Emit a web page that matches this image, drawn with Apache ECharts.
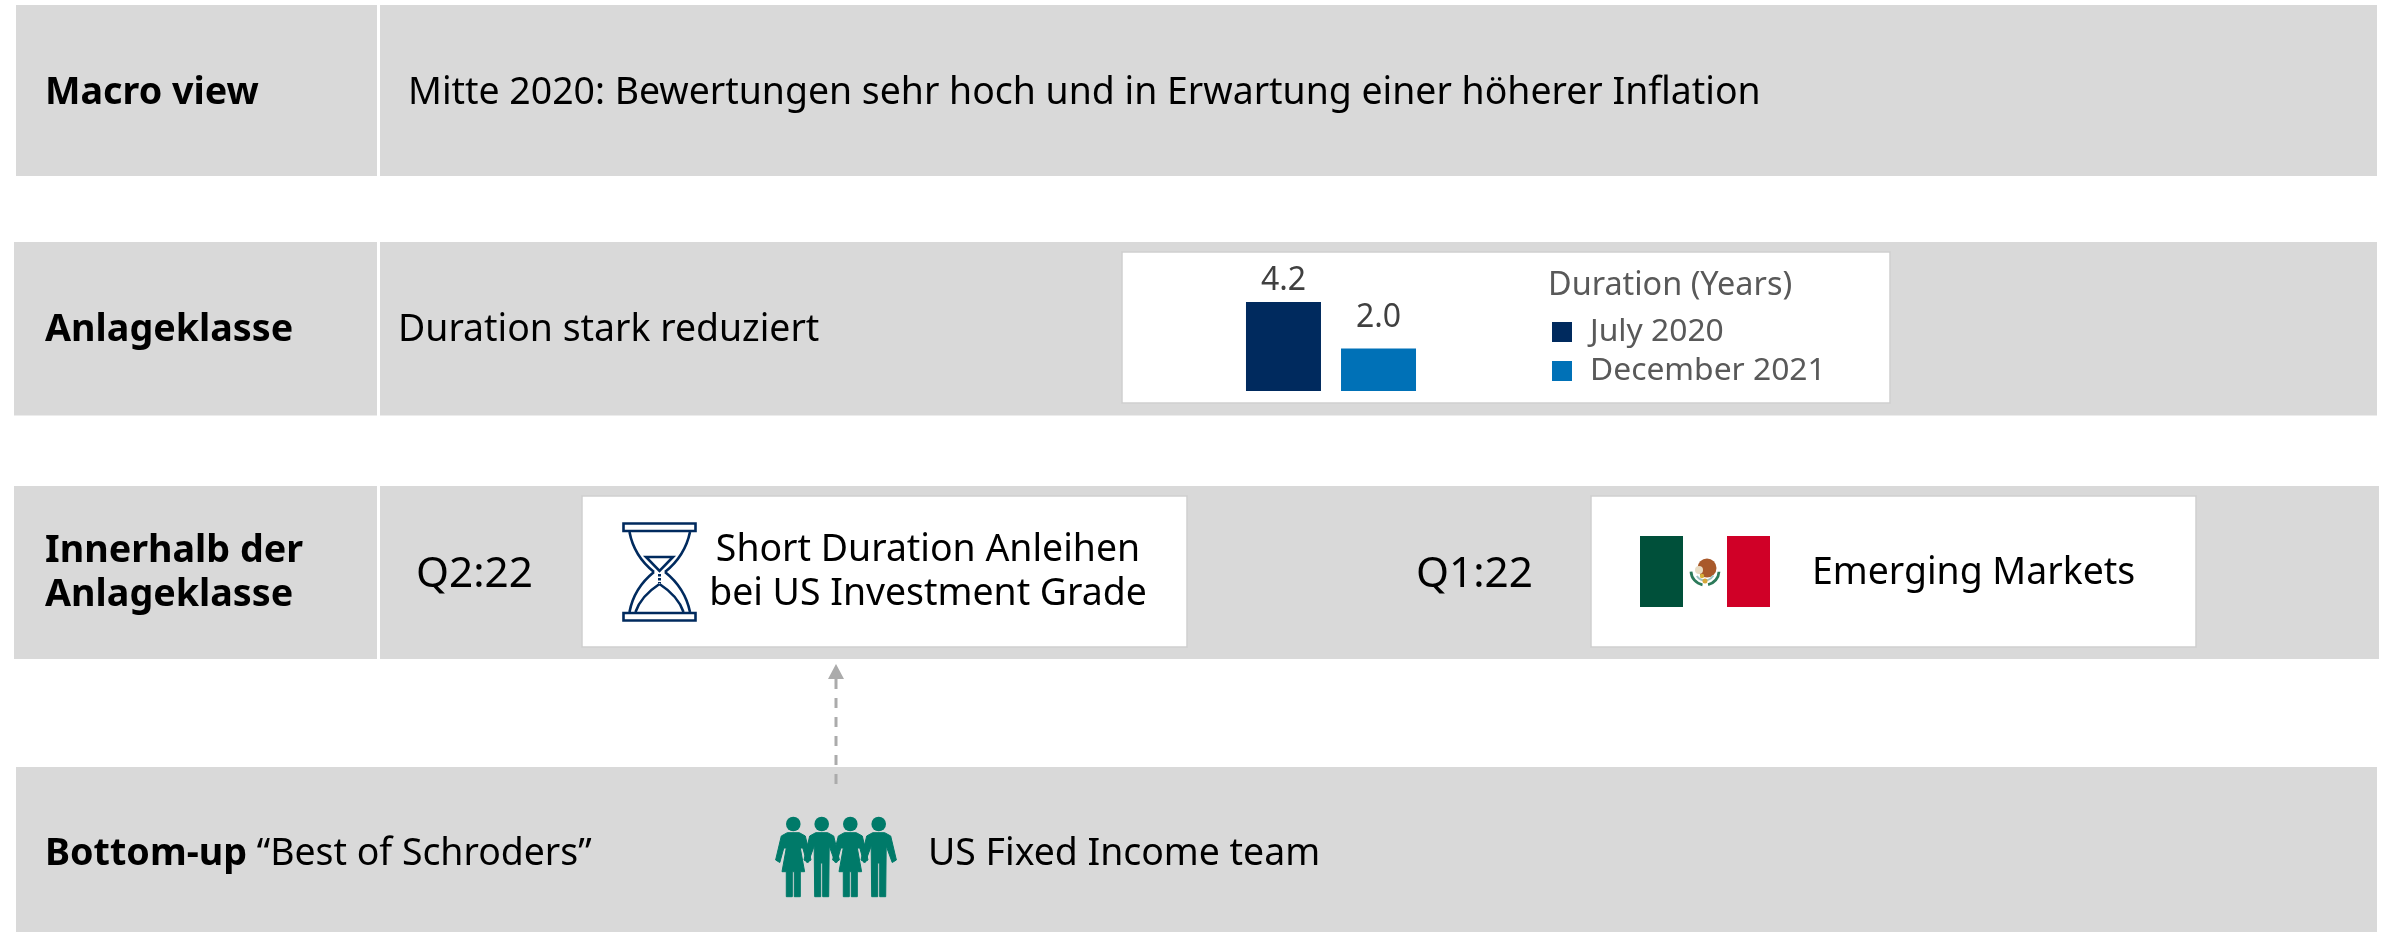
<!DOCTYPE html>
<html lang="en">

<head>
    <meta charset="UTF-8">
    <title>Best of Schroders</title>
    <style>
        html, body { margin: 0; padding: 0; background: #fff; }
        #main { width: 2387px; height: 932px; }
    </style>
</head>

<body>
    <div id="main"></div>
    <script src="https://cdn.jsdelivr.net/npm/echarts@6/dist/echarts.min.js"></script>
    <script>
        var durationTitle = 'Duration (Years)';
        var durationCategory = ['Duration'];
        var seriesNames = ['July 2020', 'December 2021'];
        var july2020 = [4.2];
        var december2021 = [2.0];

        var FONT = '"Noto Sans"';
        var PANEL = '#d9d9d9';
        var NAVY = '#002a5e';
        var BLUE = '#0071b7';
        var TEAL = '#007a69';
        var SIZE = 37.4;
        var BOLD = 37.7;

        function rect(x, y, w, h, fill, stroke) {
            return {
                type: 'rect',
                shape: { x: x, y: y, width: w, height: h },
                style: { fill: fill, stroke: stroke || null, lineWidth: stroke ? 1.5 : 0 }
            };
        }

        function text(str, x, y, size, weight, color, align) {
            return {
                type: 'text',
                x: x,
                y: y,
                style: {
                    text: str,
                    fill: color || '#000',
                    font: (weight || 'normal') + ' ' + size + 'px ' + FONT,
                    textAlign: align || 'left',
                    textVerticalAlign: 'middle'
                }
            };
        }

        function curve(x1, y1, cx, cy, x2, y2, color, width) {
            return {
                type: 'bezierCurve',
                shape: { x1: x1, y1: y1, x2: x2, y2: y2, cpx1: cx, cpy1: cy },
                style: { stroke: color, lineWidth: width, fill: null }
            };
        }

        // hourglass icon in the left box
        function hourglass() {
            var w = 2.6;
            var box = { fill: '#fff', stroke: NAVY, lineWidth: w };
            return [
                { type: 'rect', shape: { x: 623.5, y: 523.5, width: 72, height: 7.5 }, style: box },
                { type: 'rect', shape: { x: 623.5, y: 613, width: 72, height: 7.5 }, style: box },
                curve(629.5, 532, 634, 556, 654, 572, NAVY, w),
                curve(690, 532, 685, 556, 665, 572, NAVY, w),
                curve(654, 572, 634, 588, 629.5, 612, NAVY, w),
                curve(665, 572, 685, 588, 690, 612, NAVY, w),
                {
                    type: 'polygon',
                    shape: { points: [[646, 557], [673, 557], [659.5, 571]] },
                    style: { fill: null, stroke: NAVY, lineWidth: w }
                },
                curve(635.5, 612, 641, 596, 659.5, 584, NAVY, w),
                curve(683.5, 612, 678, 596, 659.5, 584, NAVY, w),
                {
                    type: 'line',
                    shape: { x1: 659.5, y1: 574, x2: 659.5, y2: 583 },
                    style: { stroke: NAVY, lineWidth: 3, lineDash: [2.5, 1.5] }
                }
            ];
        }

        function flag() {
            var wreath = function (start, end, color, r, lw) {
                return {
                    type: 'arc',
                    shape: { cx: 1705, cy: 571, r: r, startAngle: start, endAngle: end, clockwise: true },
                    style: { stroke: color, lineWidth: lw, fill: null }
                };
            };
            return [
                rect(1640, 536, 43, 71, '#00503a'),
                rect(1727, 536, 43, 71, '#d00027'),
                { type: 'circle', shape: { cx: 1707, cy: 568, r: 9.5 }, style: { fill: '#a9592b' } },
                { type: 'circle', shape: { cx: 1699, cy: 570, r: 4 }, style: { fill: '#e8dcc4' } },
                { type: 'circle', shape: { cx: 1702, cy: 576, r: 2.2 }, style: { fill: '#d7b13a' } },
                wreath(0.05, 1.35, '#2c7a5a', 14, 2.8),
                wreath(1.75, 3.1, '#2c7a5a', 14, 2.8),
                wreath(0.5, 2.6, '#9fc4c4', 9.5, 2),
                { type: 'circle', shape: { cx: 1705, cy: 581, r: 2.5 }, style: { fill: '#d7a83a' } }
            ];
        }

        // four figures, woman and man in turn
        function people() {
            var woman = [[-6, 832.7], [6, 832.7], [12, 836], [17.7, 860], [13.5, 862.5], [9.5, 848], [7, 848],
                [11.3, 871.7], [7, 871.7], [7, 896.7], [1, 896.7], [1, 871.7], [-1, 871.7], [-1, 896.7],
                [-7, 896.7], [-7, 871.7], [-11.3, 871.7], [-7, 848], [-9.5, 848], [-13.5, 862.5], [-17.7, 860], [-12, 836]];
            var man = [[-6, 832.7], [6, 832.7], [12, 836], [17.7, 860], [13.5, 862.5], [7.5, 846], [7, 896.7],
                [1, 896.7], [1, 863], [-1, 863], [-1, 896.7], [-7, 896.7], [-7.5, 846], [-13.5, 862.5], [-17.7, 860], [-12, 836]];
            var out = [];
            [793.3, 821.7, 850.3, 878.7].forEach(function (cx, i) {
                out.push({ type: 'circle', shape: { cx: cx, cy: 824, r: 7.3 }, style: { fill: TEAL } });
                out.push({
                    type: 'polygon',
                    shape: {
                        points: (i % 2 ? man : woman).map(function (p) { return [cx + p[0], p[1]]; })
                    },
                    style: { fill: TEAL, stroke: TEAL, lineWidth: 1, lineJoin: 'round' }
                });
            });
            return out;
        }

        var shapes = [
            // grey bands, left cell then right cell
            rect(16, 5, 361, 171, PANEL), rect(380, 5, 1997, 171, PANEL),
            rect(14, 242, 363, 173.5, PANEL), rect(380, 242, 1997, 173.5, PANEL),
            rect(14, 486, 363, 173, PANEL), rect(380, 486, 1999, 173, PANEL),
            rect(16, 767, 2361, 165, PANEL),
            // white boxes
            rect(1122, 252, 768, 151, '#fff', '#cfcfcf'),
            rect(582, 496, 605, 151, '#fff', '#cfcfcf'),
            rect(1591, 496, 605, 151, '#fff', '#cfcfcf'),

            text('Macro view', 45, 93, BOLD, 'bold'),
            text('Mitte 2020: Bewertungen sehr hoch und in Erwartung einer höherer Inflation', 408, 93, SIZE),
            text('Anlageklasse', 45, 330, BOLD, 'bold'),
            text('Duration stark reduziert', 398, 330, SIZE),
            text('Innerhalb der', 45, 551, BOLD, 'bold'),
            text('Anlageklasse', 45, 595, BOLD, 'bold'),
            text('Q2:22', 416, 575, 42.3),
            text('Q1:22', 1416, 575, 42.3),
            text('Short Duration Anleihen', 928, 550, SIZE, 'normal', '#000', 'center'),
            text('bei US Investment Grade', 928, 594, SIZE, 'normal', '#000', 'center'),
            text('Emerging Markets', 1812, 573, SIZE),
            text(durationTitle, 1548, 286, 32.4, 'normal', '#595959'),
            {
                type: 'text',
                x: 45,
                y: 854,
                style: {
                    text: '{b|Bottom-up}{n| “Best of Schroders”}',
                    fill: '#000',
                    textVerticalAlign: 'middle',
                    rich: {
                        b: { font: 'bold ' + BOLD + 'px ' + FONT, fill: '#000' },
                        n: { font: 'normal ' + SIZE + 'px ' + FONT, fill: '#000' }
                    }
                }
            },
            text('US Fixed Income team', 928, 854, SIZE),

            // dashed arrow
            {
                type: 'line',
                shape: { x1: 836, y1: 784, x2: 836, y2: 679 },
                style: { stroke: '#ababab', lineWidth: 3, lineDash: [10, 9] }
            },
            {
                type: 'polygon',
                shape: { points: [[836, 664], [828, 679], [844, 679]] },
                style: { fill: '#ababab' }
            }
        ].concat(hourglass(), flag(), people());

        function barLabel(distance) {
            return {
                show: true,
                position: 'top',
                distance: distance,
                formatter: function (p) { return p.value.toFixed(1); },
                color: '#404040',
                fontFamily: FONT,
                fontSize: 32
            };
        }

        var option = {
            animation: false,
            backgroundColor: '#fff',
            graphic: { elements: shapes },
            legend: {
                orient: 'vertical',
                left: 1552,
                top: 316,
                padding: 0,
                icon: 'rect',
                itemWidth: 20,
                itemHeight: 20,
                itemGap: 7,
                data: seriesNames,
                textStyle: { color: '#595959', fontFamily: FONT, fontSize: 31.8, padding: [0, 0, 0, 13] }
            },
            grid: { left: 1231, top: 285, width: 200, height: 106 },
            xAxis: {
                type: 'category',
                data: durationCategory,
                axisLine: { show: false },
                axisTick: { show: false },
                axisLabel: { show: false }
            },
            yAxis: {
                type: 'value',
                min: 0,
                max: 5,
                show: false,
                splitLine: { show: false }
            },
            series: [{
                name: seriesNames[0],
                type: 'bar',
                data: july2020,
                barWidth: 75,
                barGap: '26.7%',
                itemStyle: { color: NAVY },
                label: barLabel(5)
            }, {
                name: seriesNames[1],
                type: 'bar',
                data: december2021,
                barWidth: 75,
                barGap: '26.7%',
                itemStyle: { color: BLUE },
                label: barLabel(15)
            }]
        };

        var myChart = echarts.init(document.getElementById('main'));
        myChart.setOption(option);
    </script>
</body>

</html>
